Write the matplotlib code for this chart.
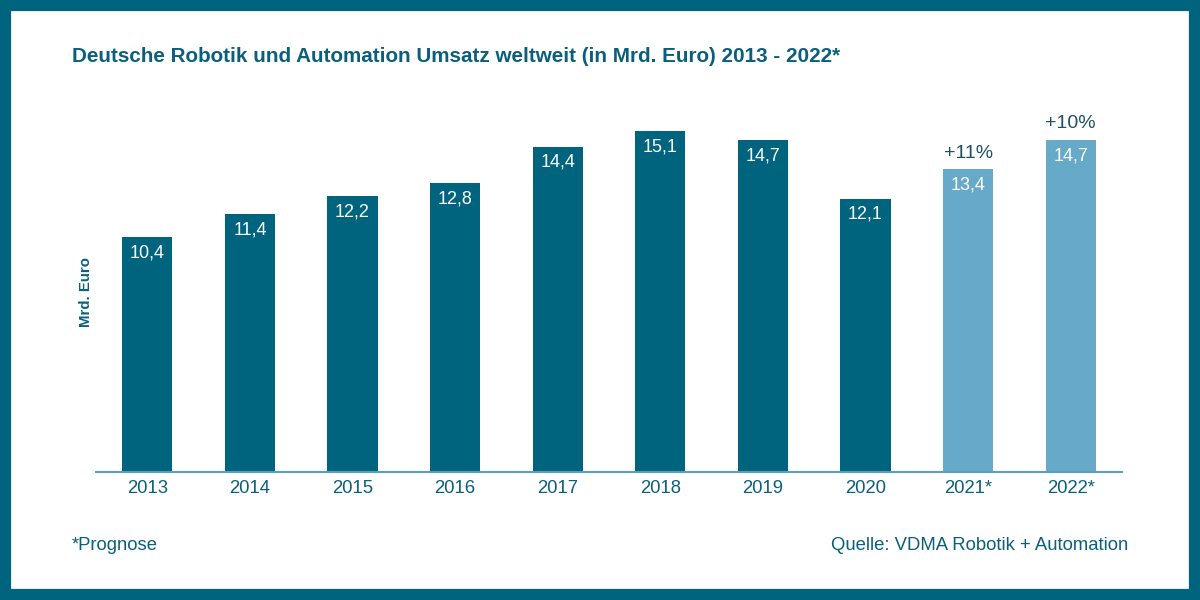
import numpy as np
import matplotlib.pyplot as plt
from matplotlib.patches import Rectangle

# --- Data ---
years = ["2013", "2014", "2015", "2016", "2017", "2018", "2019", "2020", "2021*", "2022*"]
umsatz = [10.4, 11.4, 12.2, 12.8, 14.4, 15.1, 14.7, 12.1, 13.4, 14.7]
prognose = [False] * 8 + [True, True]
growth = {8: "+11%", 9: "+10%"}

# --- Style ---
DARK = "#00647f"
LIGHT = "#67a9c9"
TEXT = "#0b5f7c"
AXIS = "#5a9fbf"
plt.rcParams['font.family'] = ['Liberation Sans', 'DejaVu Sans']

fig = plt.figure(figsize=(12, 6), dpi=100)
fig.patch.set_facecolor("white")

# teal frame around the picture (~11 px)
fig.patches.append(Rectangle((0, 0), 1, 1, transform=fig.transFigure,
                             fill=False, edgecolor=DARK, linewidth=16, zorder=0))

ax = fig.add_axes([0.08, 1 - 472 / 600, 0.855, 372 / 600])
x = np.arange(len(years))
colors = [LIGHT if p else DARK for p in prognose]
ax.bar(x, umsatz, width=0.49, color=colors, zorder=2)

for i, v in enumerate(umsatz):
    ax.text(i, v - 0.7, f"{v:.1f}".replace(".", ","), ha="center", va="center",
            color="white", fontsize=13)
for i, g in growth.items():
    ax.text(i, umsatz[i] + 0.7, g, ha="center", va="center", color="#1d5166", fontsize=14)

ax.set_xlim(-0.5, 9.5)
ax.set_ylim(0, 16.46)
ax.set_xticks(x)
ax.set_xticklabels(years, color=TEXT, fontsize=13.3)
ax.tick_params(axis="x", length=0, pad=6)
ax.set_yticks([])
for side in ["top", "right", "left"]:
    ax.spines[side].set_visible(False)
ax.spines["bottom"].set_color(AXIS)
ax.spines["bottom"].set_linewidth(1.5)

fig.text(72 / 1200, 1 - 56 / 600, "Deutsche Robotik und Automation Umsatz weltweit (in Mrd. Euro) 2013 - 2022*",
         color=TEXT, fontsize=14.9, fontweight="bold", ha="left", va="center")
fig.text(86 / 1200, 1 - 292 / 600, "Mrd. Euro", rotation=90, color=TEXT, fontsize=10.8,
         fontweight="bold", ha="center", va="center")
fig.text(72 / 1200, 1 - 546 / 600, "*Prognose", color=TEXT, fontsize=13.3, ha="left", va="center")
fig.text(1128 / 1200, 1 - 546 / 600, "Quelle: VDMA Robotik + Automation", color=TEXT,
         fontsize=13.3, ha="right", va="center")

fig.savefig("out.png", dpi=100)
